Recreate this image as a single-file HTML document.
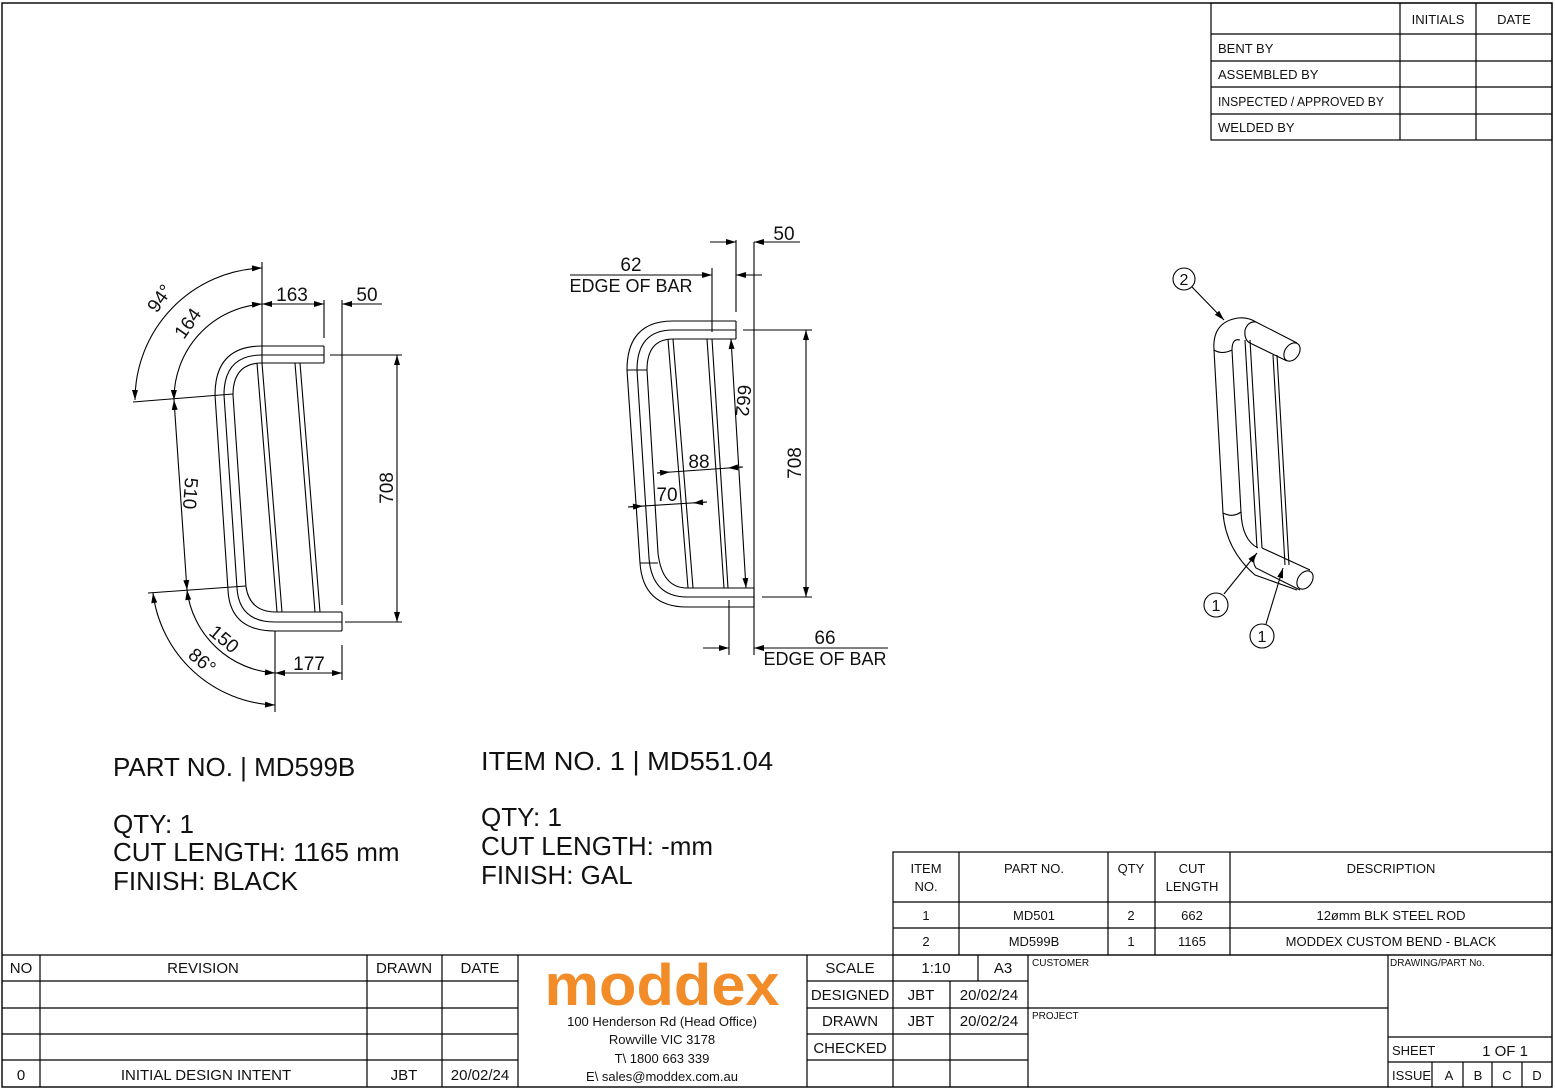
<!DOCTYPE html>
<html><head><meta charset="utf-8"><style>
html,body{margin:0;padding:0;background:#fff}
svg{display:block}
text{font-family:"Liberation Sans Narrow","Liberation Sans",sans-serif;fill:#111}
</style></head><body>
<svg width="1555" height="1090" viewBox="0 0 1555 1090" xmlns="http://www.w3.org/2000/svg">
<defs>
<marker id="a" viewBox="0 0 10 6" refX="10" refY="3" markerWidth="12" markerHeight="6" markerUnits="userSpaceOnUse" orient="auto-start-reverse"><path d="M0,0 L10,3 L0,6 Z" fill="#000"/></marker>
</defs>
<g fill="none" stroke="#000" stroke-width="1.2">
<rect x="2" y="3" width="1550" height="1084" stroke-width="1.4"/>
<rect x="1211" y="3" width="341" height="137"/>
<path d="M1400,3V140M1476,3V140M1211,34H1552M1211,61H1552M1211,87H1552M1211,114H1552"/>
<rect x="893" y="852" width="659" height="103"/>
<path d="M959,852V955M1108,852V955M1155,852V955M1230,852V955M893,902H1552M893,928H1552"/>
<path d="M2,955H1552"/>
<path d="M40,955V1087M367,955V1087M442,955V1087M518,955V1087M2,981H518M2,1008H518M2,1034H518M2,1060H518"/>
<path d="M807,955V1087M893,955V1087M950,981V1087M978,955V981M1028,955V1087M807,981H1028M807,1008H1028M807,1034H1028M807,1060H1028"/>
<path d="M1028,1008H1388M1388,955V1087M1388,1037H1552M1388,1062H1552M1432,1062V1087M1463,1062V1087M1492,1062V1087M1522,1062V1087"/>
</g>

<g fill="none" stroke="#000" stroke-width="1.1">
<path d="M324,346 L262,346 Q215,346 215,395 L228,590 Q230,631 275,631 L342,631"/>
<path d="M324,355 L262,355 Q224,355 224,395 L237,588 Q239,622 275,622 L342,622"/>
<path d="M324,363 L262,363 Q233,363 233,395 L246,587 Q250,612 276,612 L342,612"/>
<path d="M324,346V363M342,612V631"/>
<path d="M257,363L277,612M262,363L282,612M295,363L315,612M300,363L320,612"/>
<path d="M262,262V363M324,300V338M342,300V605M330,355H402M345,622H402M275,631V712M342,645V680"/>
<path d="M262,304H324" marker-start="url(#a)" marker-end="url(#a)"/>
<path d="M382,304H342" marker-end="url(#a)"/>
<path d="M397,355V622" marker-start="url(#a)" marker-end="url(#a)"/>
<path d="M275,673H342" marker-start="url(#a)" marker-end="url(#a)"/>
<path d="M133,402L233,394M148,593L246,586"/>
<path d="M174,400L187,590" marker-start="url(#a)" marker-end="url(#a)"/>
<path d="M262,268 A132,132 0 0 0 135,400" marker-start="url(#a)" marker-end="url(#a)"/>
<path d="M262,304 A95,95 0 0 0 174,400" marker-start="url(#a)" marker-end="url(#a)"/>
<path d="M187,590 A95,95 0 0 0 275,673" marker-start="url(#a)" marker-end="url(#a)"/>
<path d="M153,593 A128,128 0 0 0 275,705" marker-start="url(#a)" marker-end="url(#a)"/>
</g>
<g font-size="19">
<text x="292" y="301" text-anchor="middle">163</text>
<text x="367" y="301" text-anchor="middle">50</text>
<text x="309" y="670" text-anchor="middle">177</text>
<text transform="translate(393,488) rotate(-90)" text-anchor="middle">708</text>
<text transform="translate(184,493) rotate(94)" text-anchor="middle">510</text>
<text transform="translate(165,302) rotate(-55)" text-anchor="middle">94°</text>
<text transform="translate(193,327) rotate(-55)" text-anchor="middle">164</text>
<text transform="translate(220,644) rotate(40)" text-anchor="middle">150</text>
<text transform="translate(198,666) rotate(40)" text-anchor="middle">86°</text>
</g>

<g fill="none" stroke="#000" stroke-width="1.1">
<path d="M736,321 L673,321 Q627,321 627,370 L640,563 Q643,607 687,607 L754,607"/>
<path d="M736,330 L673,330 Q637,330 637,370 L649,558 Q652,597 687,597 L754,597"/>
<path d="M736,339 L673,339 Q647,339 647,370 L658,553 Q662,588 687,588 L754,588"/>
<path d="M736,321V339M754,588V607M627,370H647M640,563H658"/>
<path d="M668,339L688,588M673,339L693,588M707,339L724,588M712,339L728,588"/>
<path d="M736,240V312M754,242V655M712,268V332M743,330H812M762,597H812M729,600V655"/>
<path d="M710,242H736" marker-end="url(#a)"/>
<path d="M800,242H754" marker-end="url(#a)"/>
<path d="M570,275H712" marker-end="url(#a)"/>
<path d="M762,275H736" marker-end="url(#a)"/>
<path d="M703,648H729" marker-end="url(#a)"/>
<path d="M888,648H754" marker-end="url(#a)"/>
<path d="M806,330V597" marker-start="url(#a)" marker-end="url(#a)"/>
<path d="M731,339L746,588" marker-start="url(#a)" marker-end="url(#a)"/>
<path d="M657,473L743,467"/><path d="M657,473L670,472" marker-end="url(#a)"/><path d="M743,467L728,468" marker-end="url(#a)"/>
<path d="M628,507L707,502"/><path d="M628,507L643,506" marker-end="url(#a)"/><path d="M707,502L693,503" marker-end="url(#a)"/>
</g>
<g font-size="19">
<text x="784" y="240" text-anchor="middle">50</text>
<text x="631" y="271" text-anchor="middle">62</text>
<text x="631" y="292" text-anchor="middle" font-size="18">EDGE OF BAR</text>
<text x="825" y="644" text-anchor="middle">66</text>
<text x="825" y="665" text-anchor="middle" font-size="18">EDGE OF BAR</text>
<text transform="translate(801,463) rotate(-90)" text-anchor="middle">708</text>
<text transform="translate(737,400) rotate(95)" text-anchor="middle">662</text>
<text x="699" y="468" text-anchor="middle">88</text>
<text x="667" y="501" text-anchor="middle">70</text>
</g>

<g fill="none" stroke="#000" stroke-width="1.1">
<path d="M1214,350 Q1212,322 1238,318 Q1248,317 1256,322"/>
<path d="M1214,350 Q1222,355 1232,350"/>
<path d="M1232,350 Q1232,338 1240,340"/>
<path d="M1214,350L1223,513M1232,350L1241,512"/>
<path d="M1223,513 Q1226,550 1255,575 L1297,590"/>
<path d="M1223,513 Q1233,518 1241,512"/>
<path d="M1241,512 Q1242,540 1258,548"/>
<path d="M1245,340L1257,548M1250,340L1262,548M1273,355L1285,565M1277,355L1289,565"/>
<path d="M1256,322 L1297,343 M1245,330 Q1244,340 1250,343 L1287,361"/>
<path d="M1245,330 Q1248,321 1256,322"/>
<ellipse cx="1292" cy="352" rx="7" ry="10" transform="rotate(35 1292 352)"/>
<path d="M1262,548 L1310,570 M1255,556 Q1252,562 1256,568 L1300,590"/>
<ellipse cx="1305" cy="580" rx="7" ry="10" transform="rotate(35 1305 580)"/>
<circle cx="1184" cy="279" r="11"/>
<circle cx="1216" cy="605" r="12"/>
<circle cx="1262" cy="636" r="12"/>
<path d="M1192,287L1224,320" marker-end="url(#a)"/>
<path d="M1224,594L1257,553" marker-end="url(#a)"/>
<path d="M1266,624L1283,568" marker-end="url(#a)"/>
</g>
<g font-size="16" text-anchor="middle">
<text x="1184" y="285">2</text><text x="1216" y="611">1</text><text x="1262" y="642">1</text>
</g>

<g font-size="26" font-family="Liberation Sans">
<text x="113" y="776">PART NO.  | MD599B</text>
<text x="113" y="833">QTY: 1</text>
<text x="113" y="861">CUT LENGTH: 1165 mm</text>
<text x="113" y="890">FINISH: BLACK</text>
<text x="481" y="770" textLength="292" lengthAdjust="spacingAndGlyphs">ITEM NO. 1 | MD551.04</text>
<text x="481" y="826">QTY: 1</text>
<text x="481" y="855">CUT LENGTH: -mm</text>
<text x="481" y="884">FINISH: GAL</text>
</g>

<g font-size="13">
<text x="1438" y="24" text-anchor="middle">INITIALS</text>
<text x="1514" y="24" text-anchor="middle">DATE</text>
<text x="1218" y="53">BENT BY</text>
<text x="1218" y="79">ASSEMBLED BY</text>
<text x="1218" y="106" textLength="166" lengthAdjust="spacingAndGlyphs">INSPECTED / APPROVED BY</text>
<text x="1218" y="132">WELDED BY</text>
</g>
<g font-size="13" text-anchor="middle">
<text x="926" y="873">ITEM</text><text x="926" y="891">NO.</text>
<text x="1034" y="873">PART NO.</text>
<text x="1131" y="873">QTY</text>
<text x="1192" y="873">CUT</text><text x="1192" y="891">LENGTH</text>
<text x="1391" y="873">DESCRIPTION</text>
<text x="926" y="920">1</text><text x="1034" y="920">MD501</text><text x="1131" y="920">2</text><text x="1192" y="920">662</text><text x="1391" y="920">12ømm BLK STEEL ROD</text>
<text x="926" y="946">2</text><text x="1034" y="946">MD599B</text><text x="1131" y="946">1</text><text x="1192" y="946">1165</text><text x="1391" y="946">MODDEX CUSTOM BEND - BLACK</text>
</g>
<g font-size="15" text-anchor="middle">
<text x="21" y="973">NO</text><text x="203" y="973">REVISION</text><text x="404" y="973">DRAWN</text><text x="480" y="973">DATE</text>
<text x="21" y="1080">0</text><text x="206" y="1080">INITIAL DESIGN INTENT</text><text x="404" y="1080">JBT</text><text x="480" y="1080">20/02/24</text>
<text x="850" y="973">SCALE</text><text x="936" y="973">1:10</text><text x="1003" y="973">A3</text>
<text x="850" y="1000">DESIGNED</text><text x="921" y="1000">JBT</text><text x="989" y="1000">20/02/24</text>
<text x="850" y="1026">DRAWN</text><text x="921" y="1026">JBT</text><text x="989" y="1026">20/02/24</text>
<text x="850" y="1053">CHECKED</text>
<text x="1505" y="1056">1 OF 1</text>
</g>
<g font-size="13" text-anchor="middle">
<text x="1449" y="1080">A</text><text x="1478" y="1080">B</text><text x="1507" y="1080">C</text><text x="1537" y="1080">D</text>
</g>
<g font-size="13"><text x="1392" y="1055">SHEET</text><text x="1392" y="1080">ISSUE</text></g>
<g font-size="10"><text x="1032" y="966">CUSTOMER</text><text x="1032" y="1019">PROJECT</text><text x="1390" y="966">DRAWING/PART No.</text></g>
<text x="662" y="1005" text-anchor="middle" font-size="58" font-weight="bold" style="fill:#F28C28" font-family="Liberation Sans" textLength="235" lengthAdjust="spacingAndGlyphs">moddex</text>
<g font-size="13" text-anchor="middle">
<text x="662" y="1026">100 Henderson Rd (Head Office)</text>
<text x="662" y="1044">Rowville VIC 3178</text>
<text x="662" y="1063">T\ 1800 663 339</text>
<text x="662" y="1081">E\ sales@moddex.com.au</text>
</g>
</svg>
</body></html>
